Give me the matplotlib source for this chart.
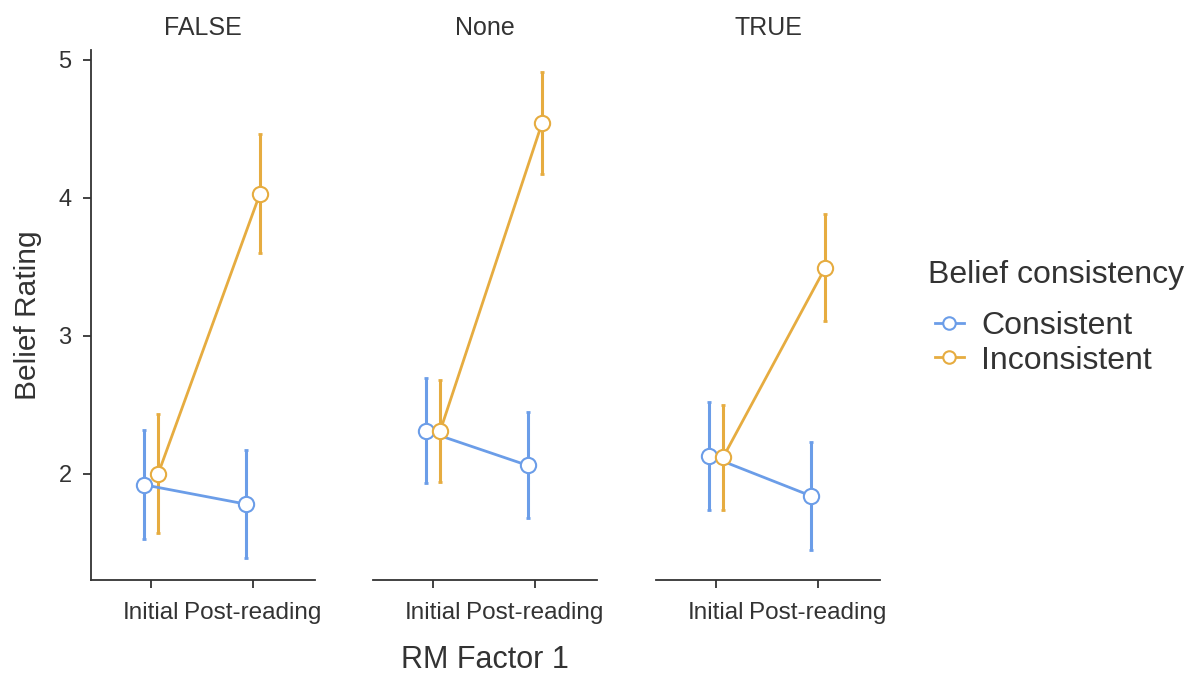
import matplotlib
matplotlib.use("Agg")
import matplotlib.pyplot as plt
from matplotlib.lines import Line2D

panels = ["FALSE", "None", "TRUE"]
times = ["Initial", "Post-reading"]
groups = ["Consistent", "Inconsistent"]
colors = {"Consistent": "#6B9DE8", "Inconsistent": "#E6AC40"}

means = {
    "Consistent":   [[1.92, 1.78], [2.31, 2.06], [2.13, 1.84]],
    "Inconsistent": [[2.00, 4.03], [2.31, 4.54], [2.12, 3.49]],
}
lower = {
    "Consistent":   [[1.53, 1.39], [1.93, 1.68], [1.74, 1.45]],
    "Inconsistent": [[1.57, 3.60], [1.94, 4.17], [1.74, 3.11]],
}
upper = {
    "Consistent":   [[2.32, 2.17], [2.69, 2.45], [2.52, 2.23]],
    "Inconsistent": [[2.43, 4.46], [2.68, 4.91], [2.50, 3.88]],
}

plt.rcParams['font.family'] = ['Liberation Sans', 'DejaVu Sans']
fig = plt.figure(figsize=(11.9, 6.75), dpi=100)
text_col = "#333333"

lefts = [91, 373, 656]
W = 224
dodge = {"Consistent": -0.07, "Inconsistent": 0.07}
for i, p in enumerate(panels):
    ax = fig.add_axes([lefts[i] / 1190, 1 - 580 / 675, W / 1190, 530 / 675])
    for g in groups:
        xs = [k + dodge[g] for k in range(len(times))]
        m = means[g][i]
        lo = [m[k] - lower[g][i][k] for k in range(2)]
        hi = [upper[g][i][k] - m[k] for k in range(2)]
        ax.errorbar(xs, m, yerr=[lo, hi], fmt='none', ecolor=colors[g],
                    elinewidth=2.2, capsize=1.2, capthick=2, zorder=2)
        ax.plot(xs, m, color=colors[g], lw=2, marker='o', ms=11,
                mfc='white', mec=colors[g], mew=1.5, zorder=3)
    ax.set_xlim(-0.59, 1.61)
    ax.set_ylim(1.23, 5.07)
    ax.set_xticks(range(len(times)))
    ax.set_xticklabels(times, fontsize=17.5, color=text_col)
    ax.set_title(p, fontsize=18, color=text_col, pad=11)
    for s in ["top", "right"]:
        ax.spines[s].set_visible(False)
    ax.spines["bottom"].set_color(text_col)
    ax.spines["bottom"].set_linewidth(1.3)
    ax.tick_params(axis='x', length=6, width=1.3, color=text_col, pad=10)
    if i == 0:
        ax.set_yticks([2, 3, 4, 5])
        ax.tick_params(axis='y', length=6, width=1.3, color=text_col,
                       labelsize=17, labelcolor=text_col, pad=8)
        ax.spines["left"].set_color(text_col)
        ax.spines["left"].set_linewidth(1.3)
        ax.set_ylabel("Belief Rating", fontsize=21.5, color=text_col, labelpad=12)
    else:
        ax.spines["left"].set_visible(False)
        ax.set_yticks([])
    ax.set_facecolor("none")

fig.text(485 / 1190, 1 - 660 / 675, "RM Factor 1", fontsize=22, color=text_col,
         ha='center', va='center')

fig.text(928 / 1190, 1 - 275 / 675, "Belief consistency", fontsize=23,
         color=text_col, ha='left', va='center')
handles = [Line2D([0], [0], color=colors[g], lw=2, marker='o', ms=9,
                  mfc='white', mec=colors[g], mew=1.5) for g in groups]
leg = fig.legend(handles, groups, loc='upper left',
                 bbox_to_anchor=(922 / 1190, 1 - 298 / 675), frameon=False,
                 fontsize=23, handlelength=0.9,
                 handletextpad=0.55, labelspacing=0.15, labelcolor=text_col,
                 borderaxespad=0)

fig.savefig("out.png", dpi=100)
